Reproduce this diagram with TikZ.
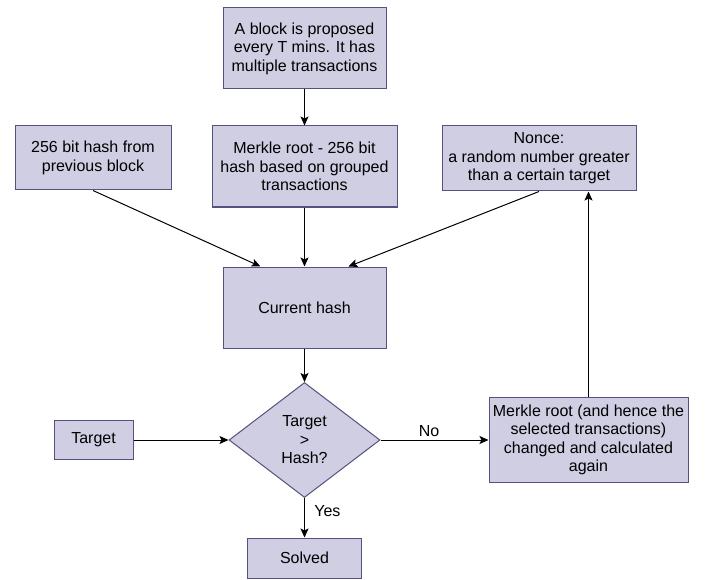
\documentclass[tikz,border=0pt]{standalone}
\usepackage{fontspec}
\setmainfont{Liberation Sans}
\usetikzlibrary{shapes.geometric,arrows.meta}
\definecolor{boxfill}{HTML}{D0CEE2}
\definecolor{boxline}{HTML}{56517E}

\begin{document}
\begin{tikzpicture}[x=1pt, y=-1pt, ->, >={Stealth[length=9pt,width=8pt,inset=2pt]}, line width=1pt,
  font=\fontsize{16}{18.5}\selectfont,
  box/.style={rectangle, draw=boxline, fill=boxfill, inner sep=0pt, align=center},
  test/.style={box, diamond, aspect=1.3}]
      \useasboundingbox (0,0) rectangle (709,580);
      \node [box, minimum width=163pt, minimum height=81pt] (propose) at (304.5,48.5) {A block is proposed\\every T mins. It has\\multiple transactions};
      \node [box, minimum width=185pt, minimum height=81pt] (merkle) [below of=propose, node distance=118pt] {Merkle root - 256 bit\\hash based on grouped\\transactions};
      \node [box, minimum width=156pt, minimum height=64pt] (prev) at (93,158) {256 bit hash from\\previous block};
      \node [box, minimum width=194pt, minimum height=65pt] (nonce) at (539,158.5) {Nonce:\\a random number greater\\than a certain target};
      \node [box, minimum width=163pt, minimum height=81pt] (cur) [below of=merkle, node distance=141pt] {Current hash};
      \node [test, minimum width=151pt, minimum height=115pt] (cmp) [below of=cur, node distance=132.5pt] {Target\\>\\Hash?};
      \node [box, minimum width=79pt, minimum height=39pt] (target) [left of=cmp, node distance=211pt] {Target};
      \node [box, minimum width=199pt, minimum height=85pt] (again) [right of=cmp, node distance=284pt] {Merkle root (and hence the\\selected transactions)\\changed and calculated\\again};
      \node [box, minimum width=114pt, minimum height=40pt] (solved) [below of=cmp, node distance=118pt] {Solved};
      \path
      (propose) edge (merkle)
      (prev.south) edge ([xshift=-44pt]cur.north)
      (merkle) edge (cur)
      (nonce.south) edge ([xshift=44pt]cur.north)
      (cur) edge (cmp)
      (target) edge (cmp)
      (cmp) edge node[above, pos=0.45] {No} (again)
      (cmp) edge node[right=6pt, pos=0.33] {Yes} (solved)
      (again.north) edge (again.north |- nonce.south)
      ;
\end{tikzpicture}
\end{document}
